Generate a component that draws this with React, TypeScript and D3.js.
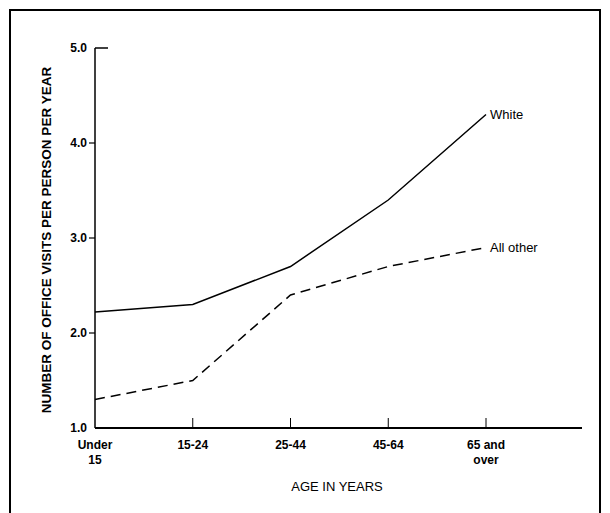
import { useEffect, useRef } from "react";
import * as d3 from "d3";

const categories = ["Under\n15", "15-24", "25-44", "45-64", "65 and\nover"];
const whiteValues = [2.22, 2.3, 2.7, 3.4, 4.3];
const otherValues = [1.3, 1.5, 2.4, 2.7, 2.9];
const yTicks = [1, 2, 3, 4, 5];

export default function App() {
  const svgRef = useRef<SVGSVGElement>(null);

  useEffect(() => {
    const svg = d3.select(svgRef.current);
    svg.selectAll("*").remove();
    const font = "'Liberation Sans', Arial, sans-serif";

    svg.append("rect").attr("x", 10).attr("y", 10).attr("width", 590).attr("height", 520)
      .attr("fill", "none").attr("stroke", "#000").attr("stroke-width", 2);

    const x = d3.scalePoint<number>().domain(d3.range(5)).range([95, 486]);
    const y = d3.scaleLinear().domain([1, 5]).range([428, 48]);

    svg.append("line").attr("x1", 95).attr("x2", 95).attr("y1", y(5)).attr("y2", y(1))
      .attr("stroke", "#000").attr("stroke-width", 1.5);
    svg.append("line").attr("x1", 95).attr("x2", 582).attr("y1", y(1)).attr("y2", y(1))
      .attr("stroke", "#000").attr("stroke-width", 2);
    svg.append("line").attr("x1", 95).attr("x2", 108).attr("y1", y(5)).attr("y2", y(5))
      .attr("stroke", "#000").attr("stroke-width", 1.5);

    yTicks.forEach((t) => {
      if (t > 1 && t < 5)
        svg.append("line").attr("x1", 89).attr("x2", 95).attr("y1", y(t)).attr("y2", y(t))
          .attr("stroke", "#000").attr("stroke-width", 1.2);
      svg.append("text").attr("x", 87).attr("y", y(t)).attr("dy", "0.35em")
        .attr("text-anchor", "end").style("font-family", font).style("font-size", "12px")
        .style("font-weight", "bold").text(t.toFixed(1));
    });

    categories.forEach((c, i) => {
      if (i > 0)
        svg.append("line").attr("x1", x(i)!).attr("x2", x(i)!).attr("y1", y(1) - 10).attr("y2", y(1))
          .attr("stroke", "#000").attr("stroke-width", 1);
      c.split("\n").forEach((s, j) => {
        svg.append("text").attr("x", x(i)!).attr("y", 449 + j * 15).attr("text-anchor", "middle")
          .style("font-family", font).style("font-size", "12px").style("font-weight", "bold").text(s);
      });
    });

    const line = d3.line<number>().x((_, i) => x(i)!).y((d) => y(d));
    svg.append("path").datum(whiteValues).attr("d", line).attr("fill", "none")
      .attr("stroke", "#000").attr("stroke-width", 1.5);
    svg.append("path").datum(otherValues).attr("d", line).attr("fill", "none")
      .attr("stroke", "#000").attr("stroke-width", 1.5).attr("stroke-dasharray", "10,6");

    svg.append("text").attr("x", 490).attr("y", y(4.3)).attr("dy", "0.35em")
      .style("font-family", font).style("font-size", "13px").text("White");
    svg.append("text").attr("x", 490).attr("y", y(2.9)).attr("dy", "0.35em")
      .style("font-family", font).style("font-size", "13px").text("All other");

    svg.append("text").attr("x", 337).attr("y", 491).attr("text-anchor", "middle")
      .style("font-family", font).style("font-size", "13px").text("AGE IN YEARS");
    svg.append("text").attr("transform", `translate(51,${(y(1) + y(5)) / 2 + 2}) rotate(-90)`)
      .attr("text-anchor", "middle").style("font-family", font).style("font-size", "13.5px")
      .style("font-weight", "bold").text("NUMBER OF OFFICE VISITS PER PERSON PER YEAR");
  }, []);

  return <svg ref={svgRef} width={610} height={513} style={{ position: "absolute", left: 0, top: 0 }} />;
}
